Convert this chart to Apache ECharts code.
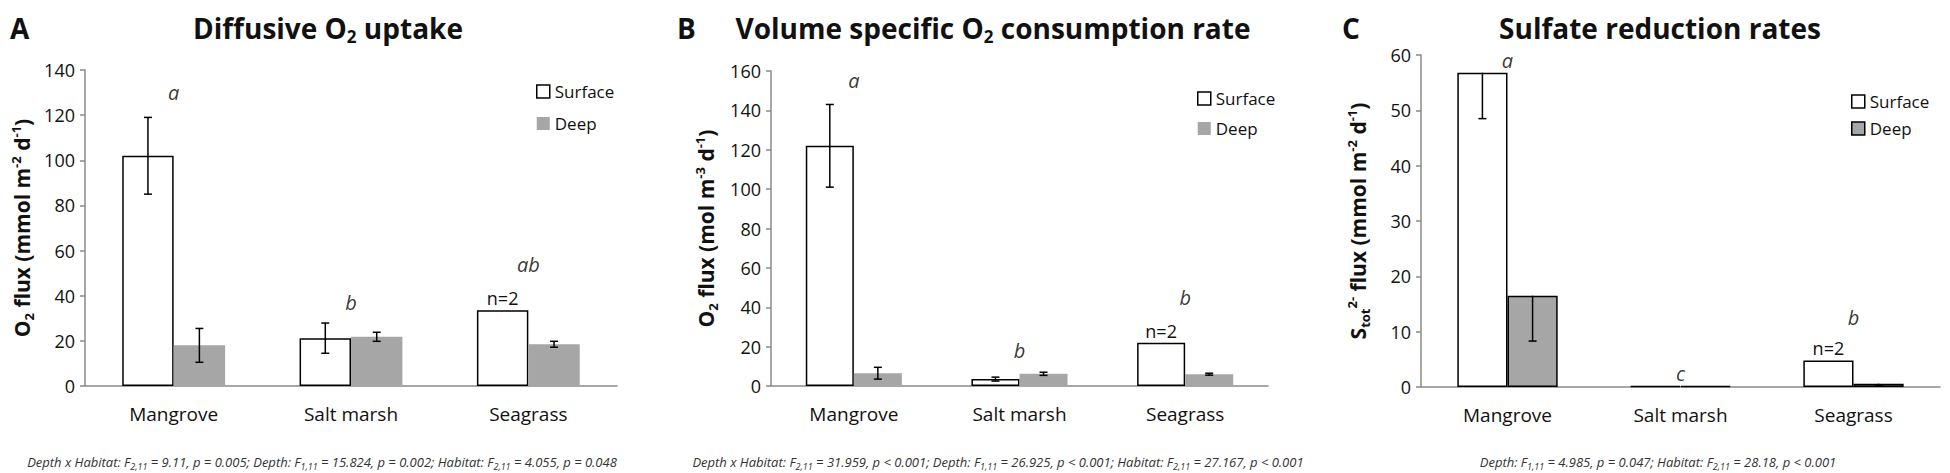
<!DOCTYPE html>
<html lang="en">
<head>
  <meta charset="utf-8">
  <title>O2 uptake and sulfate reduction</title>
  <script src="https://cdn.jsdelivr.net/npm/echarts@6/dist/echarts.min.js"></script>
  <style>
    html, body { margin: 0; padding: 0; background: #fff; }
    #main { width: 1950px; height: 473px; }
  </style>
</head>
<body>
  <div id="main"></div>
  <script>
    // categories and values
    var categories = ['Mangrove', 'Salt marsh', 'Seagrass'];

    // A - diffusive O2 uptake (mmol m-2 d-1)
    var aSurface = [102, 21.2, 33.6];
    var aSurfaceErr = [17, 6.7, null];
    var aDeep = [18, 21.8, 18.5];
    var aDeepErr = [7.5, 2, 1.3];
    var aLetters = ['a', 'b', 'ab'];
    var aLetterY = [130, 37, 54];

    // B - volume specific O2 consumption (mol m-3 d-1)
    var bSurface = [122, 3.5, 22];
    var bSurfaceErr = [21, 1, null];
    var bDeep = [6.5, 6.2, 6];
    var bDeepErr = [3, 0.8, 0.5];
    var bLetters = ['a', 'b', 'b'];
    var bLetterY = [155, 18, 45];

    // C - sulfate reduction (mmol m-2 d-1), minus-only error bars
    var cSurface = [56.8, 0.15, 4.8];
    var cSurfaceErr = [8.3, null, null];
    var cDeep = [16.5, 0.15, 0.6];
    var cDeepErr = [8.2, null, 0.3];
    var cLetters = ['a', 'c', 'b'];
    var cLetterY = [59, 2.5, 12.5];

    var nNote = ['', '', 'n=2'];

    var font = '"Open Sans", sans-serif';
    var axisGray = '#8a8a8a';
    var deepGray = '#a6a6a6';

    var chart = echarts.init(document.getElementById('main'), null, { renderer: 'svg' });

    // error bar drawn at the centre of the left (-1) or right (+1) bar
    function errRender(side, minusOnly) {
      return function (params, api) {
        var i = api.value(0), v = api.value(1), e = api.value(2);
        var band = api.size([1, 0])[0];
        var cx = api.coord([i, v])[0] + side * band * 0.145;
        var yTop = api.coord([i, minusOnly ? v : v + e])[1];
        var yBot = api.coord([i, v - e])[1];
        var w = 4;
        var st = { stroke: '#000', lineWidth: 1.5 };
        var kids = [
          { type: 'line', shape: { x1: cx, y1: yTop, x2: cx, y2: yBot }, style: st },
          { type: 'line', shape: { x1: cx - w, y1: yBot, x2: cx + w, y2: yBot }, style: st }
        ];
        if (!minusOnly) {
          kids.push({ type: 'line', shape: { x1: cx - w, y1: yTop, x2: cx + w, y2: yTop }, style: st });
        }
        return { type: 'group', children: kids };
      };
    }

    function errData(values, errs) {
      var out = [];
      for (var i = 0; i < values.length; i++) {
        if (errs[i] != null) out.push([i, values[i], errs[i]]);
      }
      return out;
    }

    function panelSeries(gi, surface, surfaceErr, deep, deepErr, deepBorder, minusOnly, letters, letterY) {
      return [
        {
          type: 'bar', name: 'Surface', xAxisIndex: gi, yAxisIndex: gi,
          data: surface, barWidth: '29%', barGap: '0%',
          itemStyle: { color: '#fff', borderColor: '#000', borderWidth: 1.5 },
          label: {
            show: true, position: 'top', distance: 3,
            formatter: function (p) { return nNote[p.dataIndex]; },
            fontSize: 18, fontFamily: font, color: '#111'
          },
          silent: true
        },
        {
          type: 'bar', name: 'Deep', xAxisIndex: gi, yAxisIndex: gi,
          data: deep, barWidth: '29%', barGap: '0%',
          itemStyle: {
            color: deepGray,
            borderColor: deepBorder ? '#000' : deepGray,
            borderWidth: deepBorder ? 1.5 : 0
          },
          silent: true
        },
        {
          type: 'custom', xAxisIndex: gi, yAxisIndex: gi, z: 10, silent: true,
          data: errData(surface, surfaceErr), renderItem: errRender(-1, minusOnly)
        },
        {
          type: 'custom', xAxisIndex: gi, yAxisIndex: gi, z: 10, silent: true,
          data: errData(deep, deepErr), renderItem: errRender(1, minusOnly)
        },
        {
          type: 'scatter', xAxisIndex: gi, yAxisIndex: gi, symbolSize: 0, silent: true,
          data: letterY.map(function (y, i) { return [i, y]; }),
          label: {
            show: true, position: 'inside',
            formatter: function (p) { return letters[p.dataIndex]; },
            fontStyle: 'italic', fontSize: 20, fontFamily: font, color: '#000'
          }
        }
      ];
    }

    function xAxisFor(gi) {
      return {
        type: 'category', gridIndex: gi, data: categories,
        axisLine: { lineStyle: { color: axisGray, width: 1.5 } },
        axisTick: { show: false },
        axisLabel: { fontSize: 19, fontFamily: font, color: '#111', margin: 18 }
      };
    }

    var nameRich = {
      b: { fontSize: 21, fontWeight: 'bold', fontFamily: font, color: '#111', lineHeight: 26, verticalAlign: 'middle' },
      s: { fontSize: 13, fontWeight: 'bold', fontFamily: font, color: '#111', lineHeight: 12, verticalAlign: 'bottom' },
      p: { fontSize: 13, fontWeight: 'bold', fontFamily: font, color: '#111', lineHeight: 12, verticalAlign: 'top' }
    };

    function yAxisFor(gi, max, interval, name, gap) {
      return {
        type: 'value', gridIndex: gi, min: 0, max: max, interval: interval,
        name: name, nameLocation: 'middle', nameGap: gap,
        nameTextStyle: { rich: nameRich },
        splitLine: { show: false },
        axisLine: { show: true, lineStyle: { color: axisGray, width: 1.5 } },
        axisTick: { show: true, length: 5, lineStyle: { color: axisGray, width: 1.5 } },
        axisLabel: { fontSize: 18, fontFamily: font, color: '#111', margin: 10 }
      };
    }

    function legendFor(left, top, gap, deepBorder) {
      return {
        left: left, top: top, orient: 'vertical', itemGap: gap,
        itemWidth: 13, itemHeight: 13, selectedMode: false,
        textStyle: { fontSize: 17, fontFamily: font, color: '#111' },
        data: [
          { name: 'Surface', icon: 'rect', itemStyle: { color: '#fff', borderColor: '#000', borderWidth: 1.5 } },
          { name: 'Deep', icon: 'rect', itemStyle: { color: deepGray, borderColor: deepBorder ? '#000' : deepGray, borderWidth: deepBorder ? 1.5 : 0 } }
        ]
      };
    }

    var titleRich = {
      t: { fontSize: 28, fontWeight: 'bold', fontFamily: font, fill: '#111', lineHeight: 34, verticalAlign: 'middle' },
      s: { fontSize: 17, fontWeight: 'bold', fontFamily: font, fill: '#111', lineHeight: 14, verticalAlign: 'bottom' }
    };
    var noteRich = {
      n: { fontSize: 13, fontStyle: 'italic', fontFamily: font, fill: '#333', lineHeight: 18, verticalAlign: 'middle' },
      s: { fontSize: 9, fontStyle: 'italic', fontFamily: font, fill: '#333', lineHeight: 8, verticalAlign: 'bottom' }
    };

    function textEl(x, y, text, rich, align) {
      return {
        type: 'text', x: x, y: y, silent: true,
        style: { text: text, rich: rich, align: align || 'center', verticalAlign: 'middle' }
      };
    }

    var option = {
      backgroundColor: '#fff',
      animation: false,
      grid: [
        { left: 85, top: 70, width: 532, height: 316 },
        { left: 771, top: 71, width: 497, height: 315 },
        { left: 1421, top: 55, width: 519, height: 332 }
      ],
      xAxis: [xAxisFor(0), xAxisFor(1), xAxisFor(2)],
      yAxis: [
        yAxisFor(0, 140, 20, '{b|O}{s|2}{b| flux (mmol m}{p|-2}{b| d}{p|-1}{b|)}', 50),
        yAxisFor(1, 160, 20, '{b|O}{s|2}{b| flux (mol m}{p|-3}{b| d}{p|-1}{b|)}', 52),
        yAxisFor(2, 60, 10, '{b|S}{s|tot}{p|2-}{b| flux (mmol m}{p|-2}{b| d}{p|-1}{b|)}', 50)
      ],
      legend: [
        legendFor(531, 78, 15, false),
        legendFor(1192, 85, 13, false),
        legendFor(1846, 88, 10, true)
      ],
      series: []
        .concat(panelSeries(0, aSurface, aSurfaceErr, aDeep, aDeepErr, false, false, aLetters, aLetterY))
        .concat(panelSeries(1, bSurface, bSurfaceErr, bDeep, bDeepErr, false, false, bLetters, bLetterY))
        .concat(panelSeries(2, cSurface, cSurfaceErr, cDeep, cDeepErr, true, true, cLetters, cLetterY)),
      graphic: [
        textEl(10, 28, '{t|A}', titleRich, 'left'),
        textEl(328, 28, '{t|Diffusive O}{s|2}{t| uptake}', titleRich),
        textEl(677, 28, '{t|B}', titleRich, 'left'),
        textEl(993, 28, '{t|Volume specific O}{s|2}{t| consumption rate}', titleRich),
        textEl(1342, 28, '{t|C}', titleRich, 'left'),
        textEl(1660, 28, '{t|Sulfate reduction rates}', titleRich),
        textEl(322, 462, '{n|Depth x Habitat: F}{s|2,11}{n| = 9.11, p = 0.005; Depth: F}{s|1,11}{n| = 15.824, p = 0.002; Habitat: F}{s|2,11}{n| = 4.055, p = 0.048}', noteRich),
        textEl(998, 462, '{n|Depth x Habitat: F}{s|2,11}{n| = 31.959, p < 0.001; Depth: F}{s|1,11}{n| = 26.925, p < 0.001; Habitat: F}{s|2,11}{n| = 27.167, p < 0.001}', noteRich),
        textEl(1658, 462, '{n|Depth: F}{s|1,11}{n| = 4.985, p = 0.047; Habitat: F}{s|2,11}{n| = 28.18, p < 0.001}', noteRich)
      ]
    };

    chart.setOption(option);
  </script>
</body>
</html>
